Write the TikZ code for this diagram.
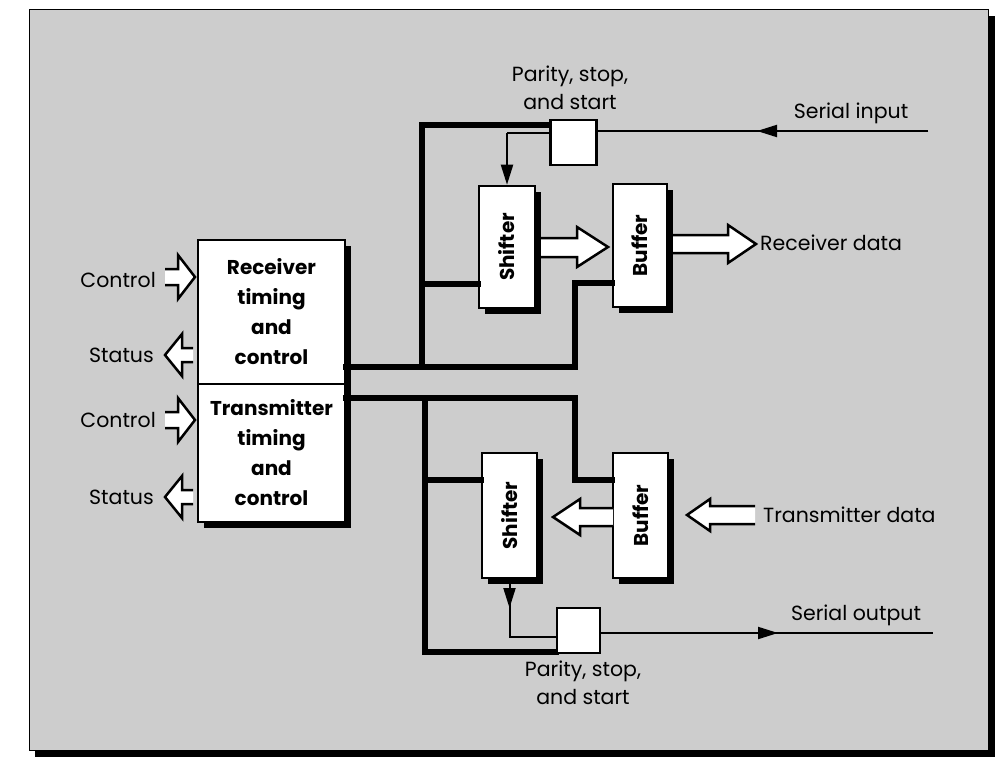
\documentclass[tikz,border=0pt]{standalone}
\usepackage{fontspec}
\setmainfont{Poppins}
\usetikzlibrary{arrows.meta,shadows,calc}
\definecolor{panel}{RGB}{205,205,205}
\begin{document}
\begin{tikzpicture}[x=1pt,y=-1pt,
  box/.style={draw=black, line width=2.5pt, fill=white, inner sep=0pt,
    drop shadow={shadow xshift=6pt, shadow yshift=-6pt, fill=black, opacity=1}},
  sqbox/.style={draw=black, line width=2.5pt, fill=white, inner sep=0pt,
    minimum width=46pt, minimum height=45pt},
  boxtext/.style={font=\bfseries\fontsize{20}{30}\selectfont, align=center},
  rottext/.style={font=\bfseries\fontsize{20}{22}\selectfont},
  label/.style={font=\fontsize{20.5}{28}\selectfont, inner sep=0pt},
  bus/.style={line width=6pt, line cap=rect},
  wire/.style={line width=2pt},
  hollow/.style={draw=black, fill=white, line width=2.5pt, line join=miter},
  tip/.style={-{Triangle[length=20pt,width=12pt]}, line width=2pt}
]
\useasboundingbox (0,0) rectangle (1004,757);
% panel
\fill[black] (35,16) rectangle (995,757);
\filldraw[fill=panel, draw=black, line width=1pt] (29,10) rectangle (988,750);

% main control block
\node[box, minimum width=147pt, minimum height=144pt] (rx) at (271.5,312) {};
\node[box, minimum width=147pt, minimum height=138pt] (tx) at (271.5,453) {};
\node[boxtext] at (rx.center) {Receiver\\timing\\and\\control};
\node[boxtext] at (tx.center) {Transmitter\\timing\\and\\control};

% receiver section boxes
\node[box, rottext, minimum width=56pt, minimum height=122pt] (sh1) at (507,247) {\rotatebox{90}{Shifter}};
\node[box, rottext, minimum width=54pt, minimum height=123pt] (bu1) at (640,245.5) {\rotatebox{90}{Buffer}};
\node[sqbox] (sq1) at (573.5,142.5) {};

% transmitter section boxes
\node[box, rottext, minimum width=55pt, minimum height=125pt] (sh2) at (509.5,515.5) {\rotatebox{90}{Shifter}};
\node[box, rottext, minimum width=55pt, minimum height=125pt] (bu2) at (640.5,515.5) {\rotatebox{90}{Buffer}};
\node[sqbox, minimum width=43pt] (sq2) at (578.5,630.5) {};

% receiver buses
\coordinate (rb1) at (422,125);
\coordinate (rb2) at (422,367);
\coordinate (rb3) at (575,367);
\coordinate (rb4) at (575,283);
\coordinate (rb5) at (422,284);
\draw[bus] (sq1.west |- rb1) -- (rb1) -- (rb2);
\draw[bus] (rx.east |- rb2) -- (rb3) -- (rb4) -- (bu1.west |- rb4);
\draw[bus] (rb5) -- (sh1.west |- rb5);

% transmitter buses
\coordinate (tb1) at (575,398);
\coordinate (tb2) at (575,480);
\coordinate (tb3) at (425,398);
\coordinate (tb4) at (425,652);
\coordinate (tb5) at (425,480);
\draw[bus] (tx.east |- tb1) -- (tb1) -- (tb2) -- (bu2.west |- tb2);
\draw[bus] (tb3) -- (tb4) -- (sq2.west |- tb4);
\draw[bus] (tb5) -- (sh2.west |- tb5);
\node[sqbox] at (sq1.center) {};
\node[sqbox, minimum width=43pt] at (sq2.center) {};

% thin wires receiver
\coordinate (w1) at (507,133);
\draw[wire] (sq1.west |- w1) -- (w1);
\draw[tip] (w1) -- (sh1.north);
\coordinate (si) at (928,131);
\draw[wire] (si) -- (sq1.east |- si);
\draw[tip] (si) -- (757,131);

% thin wires transmitter
\coordinate (w2) at (509.5,637);
\coordinate (w3) at (509.5,608);
\draw[wire] (sh2.south) -- (w2) -- (sq2.west |- w2);
\draw[tip] (sh2.south) -- (w3);
\coordinate (so) at (933,633);
\draw[wire] (sq2.east |- so) -- (so);
\draw[tip] (sq2.east |- so) -- (778,633);

% hollow arrows
\filldraw[hollow] (541,238) -- (577,238) -- (577,227) -- (608,247) -- (577,267) -- (577,257) -- (541,257);
\filldraw[hollow] (673,235) -- (728,235) -- (728,225) -- (756,244) -- (728,263) -- (728,253) -- (673,253);
\filldraw[hollow] (613,508) -- (580,508) -- (580,499) -- (553,517) -- (580,535) -- (580,526) -- (613,526);
\filldraw[hollow] (755,506) -- (710,506) -- (710,499) -- (687,515) -- (710,531) -- (710,524) -- (755,524);
% left side control/status
\filldraw[hollow] (165,269) -- (178,269) -- (178,255) -- (195,277) -- (178,299) -- (178,285) -- (165,285);
\filldraw[hollow] (165,412) -- (178,412) -- (178,398) -- (195,420) -- (178,442) -- (178,428) -- (165,428);
\filldraw[hollow] (193,348) -- (182,348) -- (182,334) -- (165,355) -- (182,376) -- (182,362) -- (193,362);
\filldraw[hollow] (193,490) -- (182,490) -- (182,476) -- (165,497) -- (182,518) -- (182,504) -- (193,504);

% labels
\node[label, anchor=east] at (156,280) {Control};
\node[label, anchor=east] at (154,355) {Status};
\node[label, anchor=east] at (156,420) {Control};
\node[label, anchor=east] at (154,497) {Status};
\node[label, align=center] at (570,88) {Parity, stop,\\and start};
\node[label, align=center] at (583,683) {Parity, stop,\\and start};
\node[label] at (851,113) {Serial input};
\node[label, anchor=west] at (760,243) {Receiver data};
\node[label, anchor=west] at (763,515) {Transmitter data};
\node[label] at (856,615) {Serial output};
\end{tikzpicture}
\end{document}
